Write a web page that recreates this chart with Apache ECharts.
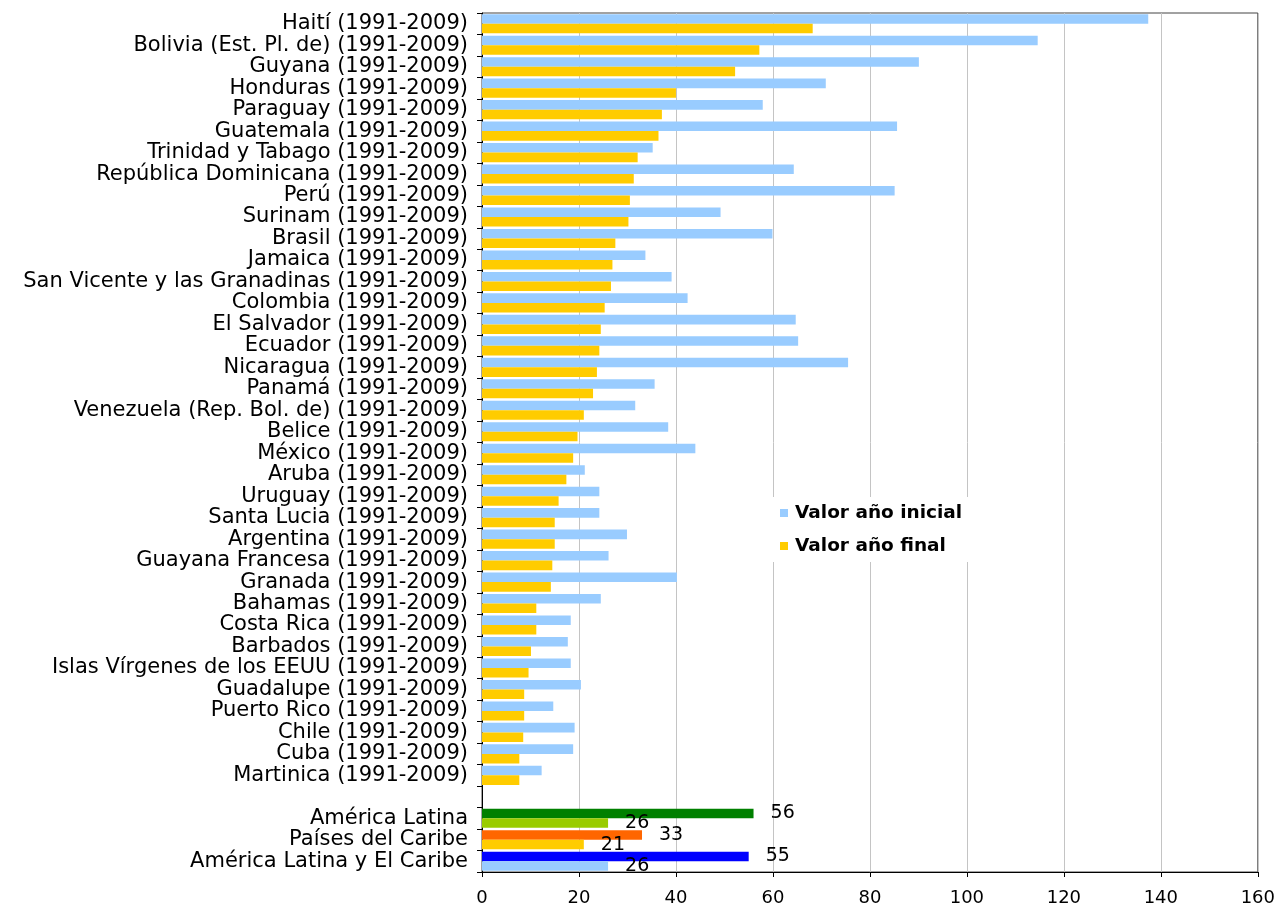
<!DOCTYPE html>
<html>
<head>
<meta charset="utf-8">
<script src="https://cdn.jsdelivr.net/npm/echarts@6/dist/echarts.min.js"></script>
<style>html,body{margin:0;padding:0;background:#fff}#c{width:1278px;height:910px}</style>
</head>
<body>
<div id="c"></div>
<script>
const categories = [
  'Haití (1991-2009)', 'Bolivia (Est. Pl. de) (1991-2009)', 'Guyana (1991-2009)', 'Honduras (1991-2009)',
  'Paraguay (1991-2009)', 'Guatemala (1991-2009)', 'Trinidad y Tabago (1991-2009)', 'República Dominicana (1991-2009)',
  'Perú (1991-2009)', 'Surinam (1991-2009)', 'Brasil (1991-2009)', 'Jamaica (1991-2009)',
  'San Vicente y las Granadinas (1991-2009)', 'Colombia (1991-2009)', 'El Salvador (1991-2009)', 'Ecuador (1991-2009)',
  'Nicaragua (1991-2009)', 'Panamá (1991-2009)', 'Venezuela (Rep. Bol. de) (1991-2009)', 'Belice (1991-2009)',
  'México (1991-2009)', 'Aruba (1991-2009)', 'Uruguay (1991-2009)', 'Santa Lucia (1991-2009)',
  'Argentina (1991-2009)', 'Guayana Francesa (1991-2009)', 'Granada (1991-2009)', 'Bahamas (1991-2009)',
  'Costa Rica (1991-2009)', 'Barbados (1991-2009)', 'Islas Vírgenes de los EEUU (1991-2009)', 'Guadalupe (1991-2009)',
  'Puerto Rico (1991-2009)', 'Chile (1991-2009)', 'Cuba (1991-2009)', 'Martinica (1991-2009)',
  '', 'América Latina', 'Países del Caribe', 'América Latina y El Caribe'
];
const initialValues = [
  137.4, 114.6, 90.1, 70.9, 57.9, 85.6, 35.2, 64.3, 85.1, 49.2,
  59.9, 33.7, 39.1, 42.4, 64.7, 65.2, 75.5, 35.6, 31.6, 38.4,
  44.0, 21.2, 24.2, 24.2, 29.9, 26.1, 40.2, 24.5, 18.3, 17.7,
  18.3, 20.4, 14.7, 19.1, 18.8, 12.3,
  null, 56, 33, 55
];
const finalValues = [
  68.2, 57.2, 52.2, 40.0, 37.1, 36.4, 32.1, 31.3, 30.5, 30.2,
  27.5, 26.9, 26.6, 25.3, 24.5, 24.2, 23.7, 22.9, 21.0, 19.7,
  18.8, 17.4, 15.8, 15.0, 15.0, 14.5, 14.2, 11.2, 11.2, 10.1,
  9.6, 8.7, 8.7, 8.5, 7.7, 7.7,
  null, 26, 21, 26
];
const xTicks = [0, 20, 40, 60, 80, 100, 120, 140, 160];
const seriesNames = ['Valor año inicial', 'Valor año final'];
// aggregate rows (index in categories) and their special colours
const aggregateRows = [37, 38, 39];
const aggInitialColors = ['#008000', '#FF6600', '#0000FF'];
const aggFinalColors = ['#99CC00', '#FFCC00', '#99CCFF'];

const labelStyle = {show: true, position: 'right', distance: 17, color: '#000',
  fontFamily: 'DejaVu Sans', fontSize: 19};

function buildData(values, aggColors) {
  return values.map((v, i) => {
    const k = aggregateRows.indexOf(i);
    if (v === null) return '-';
    if (k >= 0) return {value: v, itemStyle: {color: aggColors[k]}, label: labelStyle};
    return v;
  });
}

const chart = echarts.init(document.getElementById('c'), null, {renderer: 'canvas'});
chart.setOption({
  animation: false,
  backgroundColor: '#fff',
  grid: {left: 482, right: 20, top: 13, bottom: 38, show: true, borderColor: '#444', borderWidth: 1},
  legend: {
    data: seriesNames,
    orient: 'vertical',
    left: 770, top: 497,
    backgroundColor: '#fff',
    padding: [6, 12, 6, 10],
    itemWidth: 8, itemHeight: 8, itemGap: 13,
    icon: 'rect',
    textStyle: {fontFamily: 'DejaVu Sans', fontSize: 18.5, fontWeight: 'bold', color: '#000', lineHeight: 20, padding: [0, 0, 0, 2]}
  },
  xAxis: {
    type: 'value', min: 0, max: 160, interval: 20,
    axisLine: {show: true, lineStyle: {color: '#000'}},
    axisTick: {show: true, length: 5, lineStyle: {color: '#000'}},
    axisLabel: {margin: 17, fontFamily: 'DejaVu Sans', fontSize: 18, color: '#000',
      formatter: v => xTicks.includes(v) ? String(v) : ''},
    splitLine: {show: true, lineStyle: {color: '#c4c4c4'}}
  },
  yAxis: {
    type: 'category', data: categories, inverse: true,
    axisLine: {show: true, lineStyle: {color: '#000'}},
    axisTick: {show: true, length: 5, lineStyle: {color: '#000'}},
    axisLabel: {margin: 14, fontFamily: 'DejaVu Sans', fontSize: 21, color: '#000', interval: 0}
  },
  series: [
    {name: seriesNames[0], type: 'bar', data: buildData(initialValues, aggInitialColors),
      itemStyle: {color: '#99CCFF'}, barGap: '0%', barCategoryGap: '11%'},
    {name: seriesNames[1], type: 'bar', data: buildData(finalValues, aggFinalColors),
      itemStyle: {color: '#FFCC00'}, barGap: '0%', barCategoryGap: '11%'}
  ]
});
</script>
</body>
</html>
